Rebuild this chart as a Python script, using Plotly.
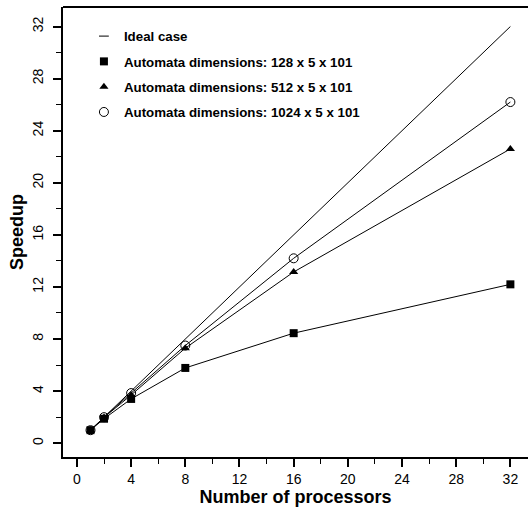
import plotly.graph_objects as go

procs = [1, 2, 4, 8, 16, 32]
ideal_x = [1, 32]
ideal_y = [1, 32]
speed_128 = [1.0, 1.88, 3.4, 5.78, 8.45, 12.2]
speed_512 = [1.0, 1.98, 3.7, 7.3, 13.15, 22.6]
speed_1024 = [1.0, 2.0, 3.85, 7.5, 14.2, 26.2]
x_ticks = [0, 4, 8, 12, 16, 20, 24, 28, 32]
y_ticks = [0, 4, 8, 12, 16, 20, 24, 28, 32]
series_names = ["Ideal case",
                "Automata dimensions: 128 x 5 x 101",
                "Automata dimensions: 512 x 5 x 101",
                "Automata dimensions: 1024 x 5 x 101"]

FONT = "Liberation Sans, Arial, Helvetica, sans-serif"

markers = [
    dict(symbol="line-ew", size=7, color="black", line=dict(color="black", width=1)),
    dict(symbol="square", size=8, color="black"),
    dict(symbol="triangle-up", size=8, color="black"),
    dict(symbol="circle-open", size=9, color="black", line=dict(width=1)),
]

fig = go.Figure()
fig.add_trace(go.Scatter(x=ideal_x, y=ideal_y, mode="lines",
                         line=dict(color="black", width=1), showlegend=False))
for ys, mk in zip([speed_128, speed_512, speed_1024], markers[1:]):
    fig.add_trace(go.Scatter(x=procs, y=ys, mode="lines+markers",
                             line=dict(color="black", width=1), marker=mk,
                             showlegend=False))
# legend entries (marker-only proxies)
for i, (name, mk) in enumerate(zip(series_names, markers)):
    fig.add_trace(go.Scatter(x=[None], y=[None], mode="markers", name=name,
                             legendgroup=f"g{i}", marker=mk))

axis_common = dict(showgrid=False, zeroline=False, showline=True, linecolor="black",
                   linewidth=2, ticks="outside", ticklen=8, tickwidth=2,
                   tickcolor="black", mirror=False,
                   tickfont=dict(family=FONT, size=14, color="black"),
                   minor=dict(dtick=2, ticks="outside", ticklen=5, tickwidth=1,
                              tickcolor="black", showgrid=False))

fig.update_xaxes(range=[-1.03, 33.3], tickvals=x_ticks,
                 title=dict(text="<b>Number of processors</b>", standoff=2,
                            font=dict(family=FONT, size=18, color="black")),
                 **axis_common)
fig.update_yaxes(range=[-1.06, 33.5], tickvals=y_ticks, tickangle=-90,
                 ticklabelstandoff=4,
                 title=dict(text="<b>Speedup</b>", standoff=2,
                            font=dict(family=FONT, size=18, color="black")),
                 **axis_common)

fig.add_shape(type="line", xref="paper", yref="paper", x0=0, x1=1, y0=1, y1=1,
              line=dict(color="black", width=2))

fig.update_layout(
    width=528, height=513,
    margin=dict(l=63, r=0, t=7, b=56),
    paper_bgcolor="white", plot_bgcolor="white",
    font=dict(family=FONT, color="black"),
    legend=dict(x=0.045, y=0.969, xanchor="left", yanchor="top",
                bgcolor="rgba(0,0,0,0)", itemwidth=30, tracegroupgap=5,
                traceorder="grouped",
                font=dict(family=FONT, size=13.3, color="black", weight="bold")),
)

fig.write_html("out.html")
